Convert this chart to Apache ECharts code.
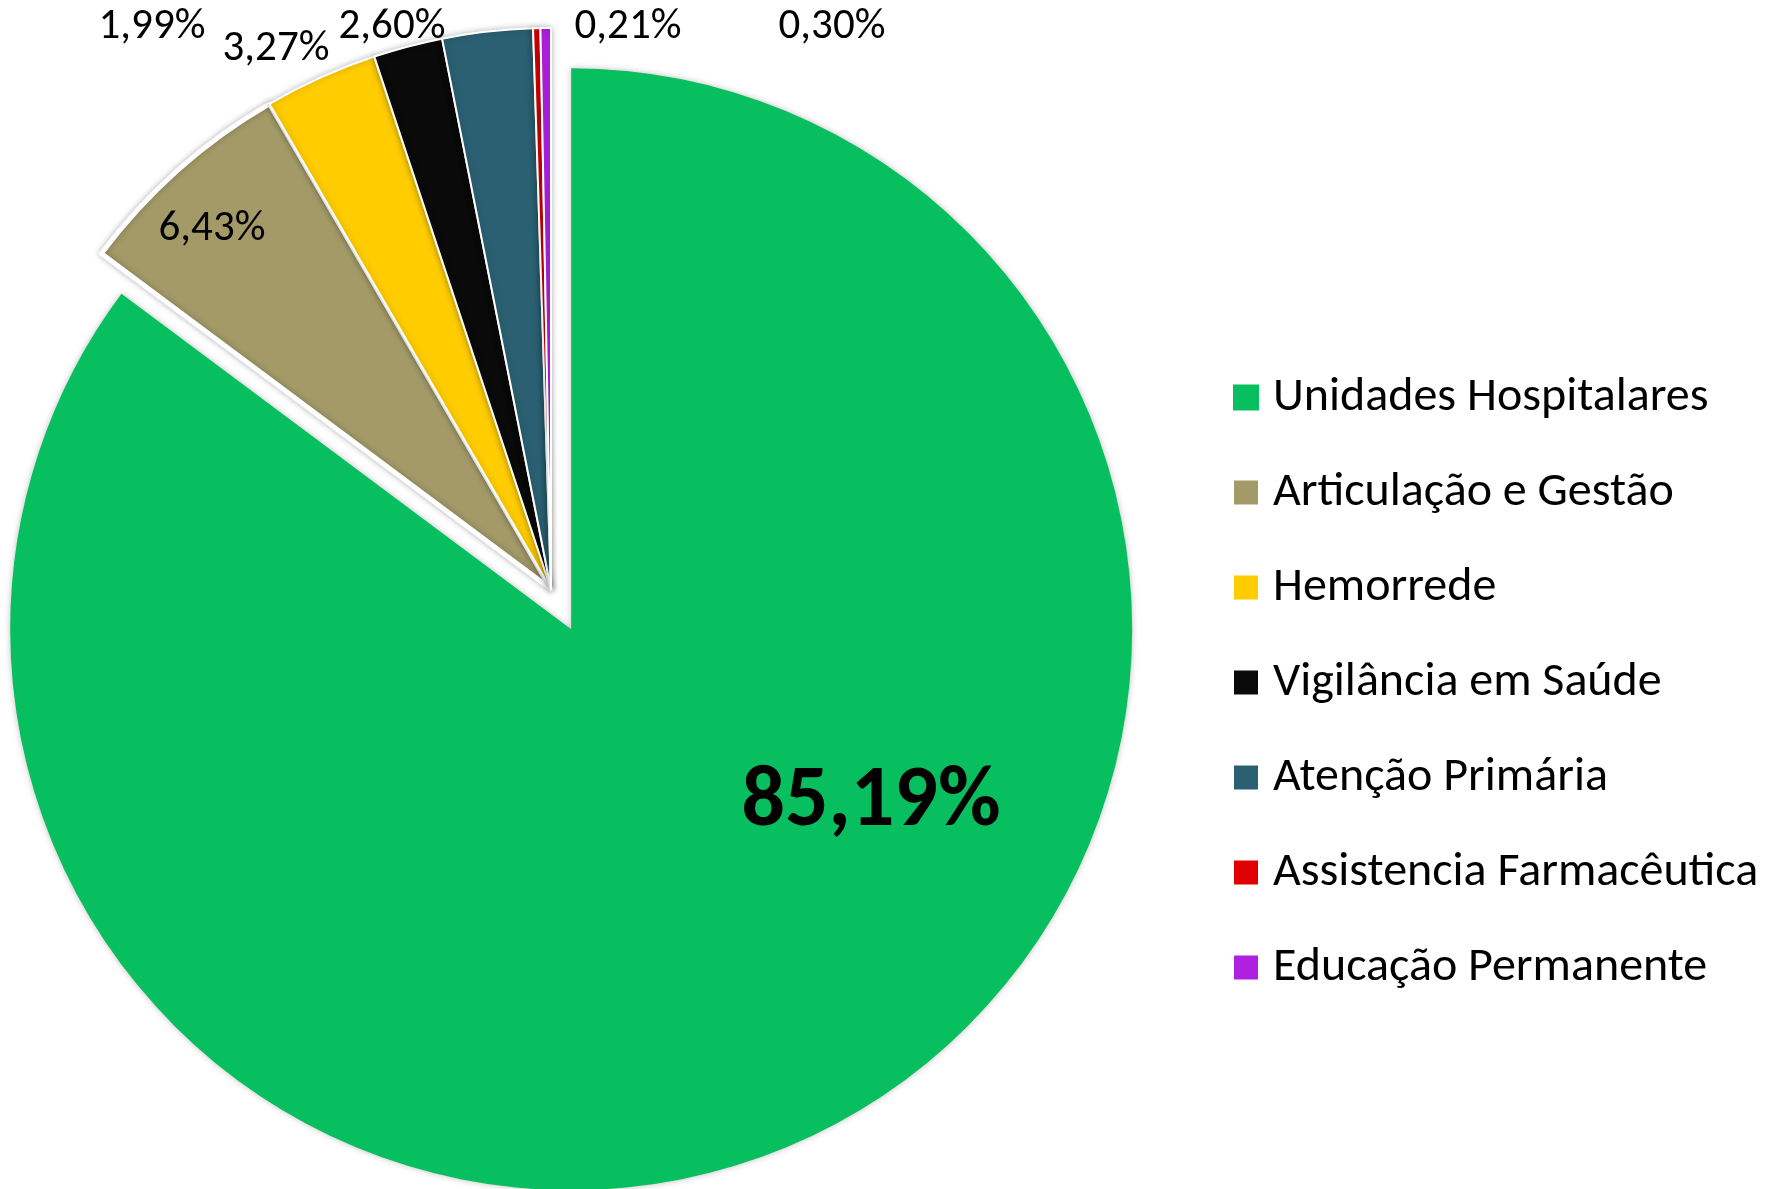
<!DOCTYPE html>
<html>
<head>
<meta charset="utf-8">
<script src="https://cdn.jsdelivr.net/npm/echarts@6/dist/echarts.min.js"></script>
<style>
    html, body { margin: 0; padding: 0; background: #fff; }
    #main { width: 1767px; height: 1189px; }
</style>
</head>
<body>
<div id="main"></div>
<script>
var categories = ['Unidades Hospitalares', 'Articulação e Gestão', 'Hemorrede', 'Vigilância em Saúde',
    'Atenção Primária', 'Assistencia Farmacêutica', 'Educação Permanente'];
var shares = [85.19, 6.43, 3.27, 1.99, 2.60, 0.21, 0.30];
var colors = ['#08bf5f', '#a39a68', '#ffcc00', '#0a0a0a', '#2a6072', '#e00000', '#b020e0'];

// where the data labels sit in the original (label centres)
var labelPos = [[871, 803], [212, 229], [276, 49], [152, 27], [392, 27], [628, 27], [832, 27]];

var FONT = 'Carlito, Lato, sans-serif';
var CENTER = [551, 589];
var RADIUS = 561;
var EXPLODE = 45; // first slice pulled out of the pie

function fmt(v) {
    return v.toFixed(2).replace('.', ',') + '%';
}

var chart = echarts.init(document.getElementById('main'));

// pulled-out slice: shift its own pie along the slice's middle angle
var total = shares.reduce(function (a, b) { return a + b; }, 0);
var mid = shares[0] / total * Math.PI; // half of the slice, clockwise from 12 o'clock
var explodedCenter = [CENTER[0] + EXPLODE * Math.sin(mid), CENTER[1] - EXPLODE * Math.cos(mid)];

function placeLabel(p) {
    var pos = labelPos[p.dataIndex];
    return { x: pos[0], y: pos[1], align: 'center', verticalAlign: 'middle' };
}

function pieSeries(name, center, visible) {
    return {
        name: name,
        type: 'pie',
        center: center,
        radius: RADIUS,
        startAngle: 90,
        clockwise: true,
        avoidLabelOverlap: false,
        silent: true,
        emphasis: { disabled: true },
        label: {
            position: 'inside',
            color: '#000',
            fontFamily: FONT,
            fontSize: 43,
            formatter: function (p) { return fmt(p.value); }
        },
        labelLine: { show: false },
        labelLayout: placeLabel,
        data: categories.map(function (cat, i) {
            if (!visible(i)) {
                return {
                    name: cat, value: shares[i],
                    itemStyle: { color: 'rgba(0,0,0,0)', borderWidth: 0, shadowBlur: 0 },
                    label: { show: false }
                };
            }
            var item = {
                name: cat, value: shares[i],
                itemStyle: {
                    color: colors[i],
                    borderColor: '#ffffff',
                    borderWidth: i === 1 ? 5 : 2,
                    shadowBlur: 6,
                    shadowColor: 'rgba(0,0,0,0.25)'
                },
                label: { show: true }
            };
            if (i === 0) {
                item.itemStyle.borderWidth = 0;
                item.label = { show: true, fontSize: 86, fontWeight: 'bold' };
            }
            return item;
        })
    };
}

chart.setOption({
    backgroundColor: '#ffffff',
    animation: false,
    legend: {
        orient: 'vertical',
        left: 1227,
        top: 368,
        icon: 'rect',
        itemWidth: 26,
        itemHeight: 26,
        itemGap: 46,
        selectedMode: false,
        textStyle: { fontFamily: FONT, fontSize: 48, color: '#000', lineHeight: 49, padding: [0, 0, 0, 9] },
        data: categories.map(function (name, i) {
            return { name: name, itemStyle: { color: colors[i] } };
        })
    },
    series: [
        pieSeries('rest', CENTER, function (i) { return i !== 0; }),
        pieSeries('main', explodedCenter, function (i) { return i === 0; })
    ]
});
</script>
</body>
</html>
